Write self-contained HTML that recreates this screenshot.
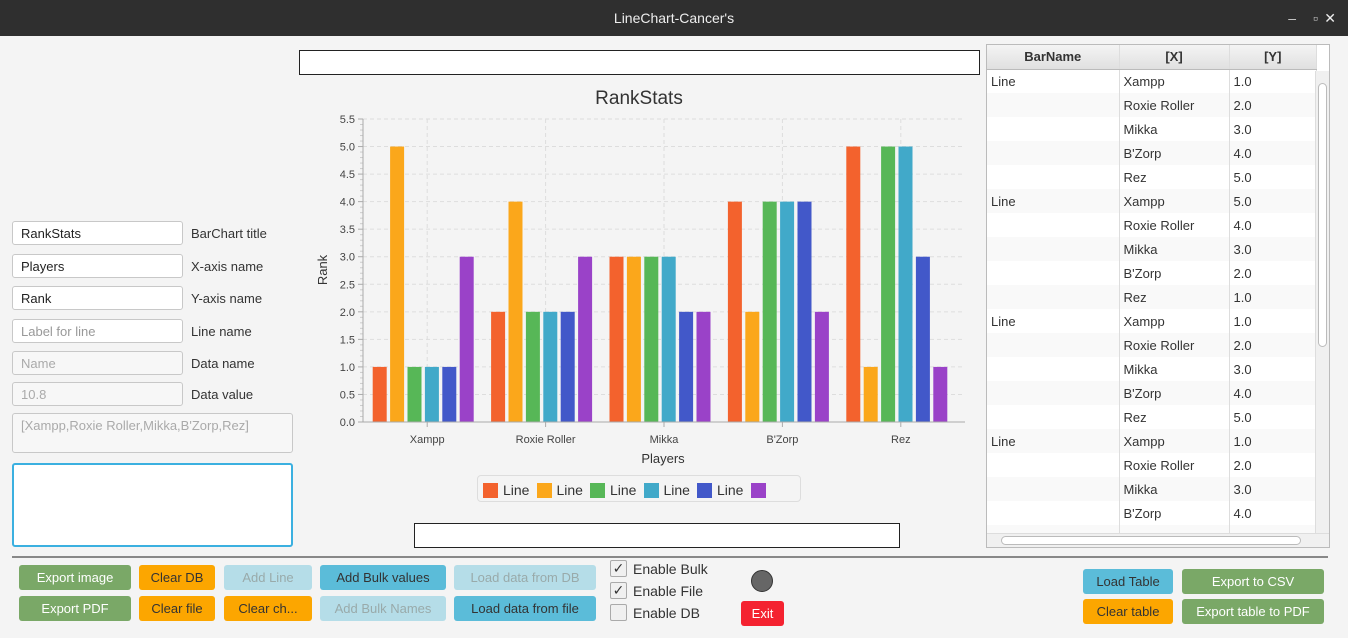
<!DOCTYPE html>
<html><head><meta charset="utf-8"><style>
*{box-sizing:border-box}
body{margin:0;width:1348px;height:638px;overflow:hidden;background:#f4f4f4;font-family:"Liberation Sans","DejaVu Sans",sans-serif;font-size:13px;color:#333;position:relative}
.abs{position:absolute}
.tf{position:absolute;left:12px;width:171px;height:24px;background:#fff;border:1px solid #c8c8c8;border-radius:3px;padding:4px 8px;font-size:13px;color:#222}
.tf.ph{color:#999}.tf.dis{background:#f7f7f7;color:#aaa}
.lbl{position:absolute;left:191px;font-size:13px;color:#333}
.btn{position:absolute;height:25px;border-radius:3px;font-size:13px;text-align:center;line-height:25px;color:#333}
.g{background:#7aa867;color:#fff}.o{background:#fca600}.lb{background:#b5dde8;color:#9aa}.b{background:#5bbcd9}
.cb{position:absolute;left:610px;width:17px;height:17px;border:1px solid #aaa;border-radius:2px;background:#f0f0f0;font-size:14px;line-height:15px;text-align:center}
.cbl{position:absolute;left:633px;font-size:14px}
table{border-collapse:collapse;font-size:13px}
td{height:24px;padding:0 4px;border-right:1px solid #ddd}
</style></head><body>
<div class="abs" style="left:0;top:0;width:1348px;height:36px;background:#2f2f2f;color:#eee;text-align:center;line-height:36px;font-size:14px">LineChart-Cancer's
<span class="abs" style="right:52px;top:0;color:#ccc">–</span><span class="abs" style="right:30px;top:0;color:#ccc">▫</span><span class="abs" style="right:12px;top:0;color:#eee">✕</span></div>

<div class="tf" style="top:221px">RankStats</div><div class="lbl" style="top:226px">BarChart title</div>
<div class="tf" style="top:254px">Players</div><div class="lbl" style="top:259px">X-axis name</div>
<div class="tf" style="top:286px">Rank</div><div class="lbl" style="top:291px">Y-axis name</div>
<div class="tf ph" style="top:319px">Label for line</div><div class="lbl" style="top:324px">Line name</div>
<div class="tf dis" style="top:351px">Name</div><div class="lbl" style="top:356px">Data name</div>
<div class="tf dis" style="top:382px">10.8</div><div class="lbl" style="top:387px">Data value</div>
<div class="tf dis" style="top:413px;width:281px;height:40px">[Xampp,Roxie Roller,Mikka,B'Zorp,Rez]</div>
<div class="abs" style="left:12px;top:463px;width:281px;height:84px;background:#fff;border:2px solid #3bb0e0;border-radius:3px"></div>

<div class="abs" style="left:299px;top:50px;width:681px;height:25px;border:1px solid #222;background:#fff"></div>
<div class="abs" style="left:414px;top:523px;width:486px;height:25px;border:1px solid #222;background:#fff"></div>

<svg class="abs" style="left:0;top:0" width="986" height="556" id="chart">
<text x="639" y="104" font-size="19" text-anchor="middle" fill="#333">RankStats</text>
<text x="663" y="463" font-size="13" text-anchor="middle" fill="#333">Players</text>
<text transform="translate(327,270) rotate(-90)" font-size="13" text-anchor="middle" fill="#333">Rank</text>
<g id="g"></g>
</svg>

<div class="abs" style="left:477px;top:475px;width:324px;height:27px;border:1px solid #ddd;border-radius:4px;background:#f4f4f4" id="legend"></div>

<div class="abs" style="left:986px;top:44px;width:344px;height:504px;border:1px solid #bbb;background:#fff;overflow:hidden">
<table id="tbl" style="width:330px">
<tr style="background:linear-gradient(#f4f4f4,#e0e0e0);font-weight:bold"><td style="width:132px;text-align:center;border-bottom:1px solid #bbb">BarName</td><td style="width:110px;text-align:center;border-bottom:1px solid #bbb">[X]</td><td style="text-align:center;border-bottom:1px solid #bbb">[Y]</td></tr>
</table>
<div class="abs" style="right:0;top:26px;width:14px;height:464px;background:#f0f0f0;border-left:1px solid #ddd"><div style="margin:12px 2px;height:264px;background:#fff;border:1px solid #bbb;border-radius:5px"></div></div>
<div class="abs" style="left:0;bottom:0;width:342px;height:14px;background:#f0f0f0;border-top:1px solid #ddd"><div style="margin:2px 14px;height:9px;width:300px;background:#fff;border:1px solid #bbb;border-radius:5px"></div></div>
</div>

<div class="abs" style="left:12px;top:556px;width:1316px;height:2px;background:#888"></div>
<div class="btn g" style="left:19px;top:565px;width:112px">Export image</div>
<div class="btn g" style="left:19px;top:596px;width:112px">Export PDF</div>
<div class="btn o" style="left:139px;top:565px;width:76px">Clear DB</div>
<div class="btn o" style="left:139px;top:596px;width:76px">Clear file</div>
<div class="btn lb" style="left:224px;top:565px;width:88px">Add Line</div>
<div class="btn o" style="left:224px;top:596px;width:88px">Clear ch...</div>
<div class="btn b" style="left:320px;top:565px;width:126px">Add Bulk values</div>
<div class="btn lb" style="left:320px;top:596px;width:126px">Add Bulk Names</div>
<div class="btn lb" style="left:454px;top:565px;width:142px">Load data from DB</div>
<div class="btn b" style="left:454px;top:596px;width:142px">Load data from file</div>
<div class="cb" style="top:560px">✓</div><div class="cbl" style="top:561px">Enable Bulk</div>
<div class="cb" style="top:582px">✓</div><div class="cbl" style="top:583px">Enable File</div>
<div class="cb" style="top:604px"></div><div class="cbl" style="top:605px">Enable DB</div>
<div class="abs" style="left:751px;top:570px;width:22px;height:22px;border-radius:50%;background:#666;border:1px solid #333"></div>
<div class="btn" style="left:741px;top:601px;width:43px;background:#f42230;color:#fff">Exit</div>
<div class="btn b" style="left:1083px;top:569px;width:90px">Load Table</div>
<div class="btn o" style="left:1083px;top:599px;width:90px">Clear table</div>
<div class="btn g" style="left:1182px;top:569px;width:142px">Export to CSV</div>
<div class="btn g" style="left:1182px;top:599px;width:142px">Export table to PDF</div>

<script>
const categories=["Xampp","Roxie Roller","Mikka","B'Zorp","Rez"];
const s1=[1,2,3,4,5];
const s2=[5,4,3,2,1];
const s3=[1,2,3,4,5];
const s4=[1,2,3,4,5];
const s5=[1,2,2,4,3];
const s6=[3,3,2,2,1];
const yTicks=[0,0.5,1,1.5,2,2.5,3,3.5,4,4.5,5,5.5];
const seriesNames=["Line","Line","Line","Line","Line",""];
const series=[s1,s2,s3,s4,s5,s6];
const colors=["#f3622d","#fba71b","#57b757","#41a9c9","#4258c9","#9a42c8"];
const NS="http://www.w3.org/2000/svg";
const g=document.getElementById('g');
const X0=363,X1=965,Y0=422,Y1=119,YMAX=5.5;
const B0=368,B1=960;
const band=(B1-B0)/categories.length;
const y=v=>Y0-(v/YMAX)*(Y0-Y1);
const xc=i=>B0+band*(i+0.5);
function mk(t,a){const e=document.createElementNS(NS,t);for(const k in a)e.setAttribute(k,a[k]);g.appendChild(e);return e;}
yTicks.forEach(t=>{
 const l=mk('line',{x1:X0,x2:X1,y1:y(t),y2:y(t),stroke:'#ddd','stroke-dasharray':'4,3'});
 
 
 const tx=mk('text',{x:X0-8,y:y(t)+4,'font-size':11,'text-anchor':'end',fill:'#444'});tx.textContent=t.toFixed(1);
 
 
 mk('line',{x1:X0-5,x2:X0,y1:y(t),y2:y(t),stroke:'#aaa'});
});
for(let k=0;k<yTicks.length-1;k++)for(let m=1;m<5;m++){const v=yTicks[k]+m*0.1;mk('line',{x1:X0-3,x2:X0,y1:y(v),y2:y(v),stroke:'#ccc'});}
categories.forEach((c,i)=>{
 const l=mk('line',{x1:xc(i),x2:xc(i),y1:Y1,y2:Y0,stroke:'#ddd','stroke-dasharray':'4,3'});
 
 
 mk('line',{x1:xc(i),x2:xc(i),y1:Y0,y2:Y0+5,stroke:'#aaa'});
 const tx=mk('text',{x:xc(i),y:Y0+21,'font-size':11,'text-anchor':'middle',fill:'#444'});tx.textContent=c;
 
 
});
const bw=14,step=17.4,groupW=step*(series.length-1)+bw;
series.forEach((s,j)=>s.forEach((v,i)=>{
 const x=xc(i)-groupW/2-4+j*step;
 const r=mk('rect',{x:x,y:y(v),width:bw,height:Y0-y(v),fill:colors[j]});
 
 
}));
mk('line',{x1:X0,x2:X0,y1:Y1,y2:Y0,stroke:'#aaa'});
mk('line',{x1:X0,x2:X1,y1:Y0,y2:Y0,stroke:'#aaa'});
const leg=document.getElementById('legend');
let lx=5;
series.forEach((s,j)=>{
 const e=document.createElement('div');
 
 
 e.style.cssText='position:absolute;top:6px;left:'+lx+'px;height:16px;display:flex;align-items:center;font-size:14px;color:#333';
 e.innerHTML='<span style="display:inline-block;width:15px;height:15px;background:'+colors[j]+';margin-right:5px"></span>'+seriesNames[j];
 leg.appendChild(e);lx+=53.5;
});
const tbl=document.getElementById('tbl');
let n=0;
for(let j=0;j<4;j++)categories.forEach((c,i)=>{
 const tr=document.createElement('tr');
 
 
 tr.style.background=n%2?'#f9f9f9':'#fff';
 tr.innerHTML='<td>'+(i==0?'Line':'')+'</td><td>'+c+'</td><td>'+series[j][i].toFixed(1)+'</td>';
 tbl.appendChild(tr);n++;
});
</script>
</body></html>
